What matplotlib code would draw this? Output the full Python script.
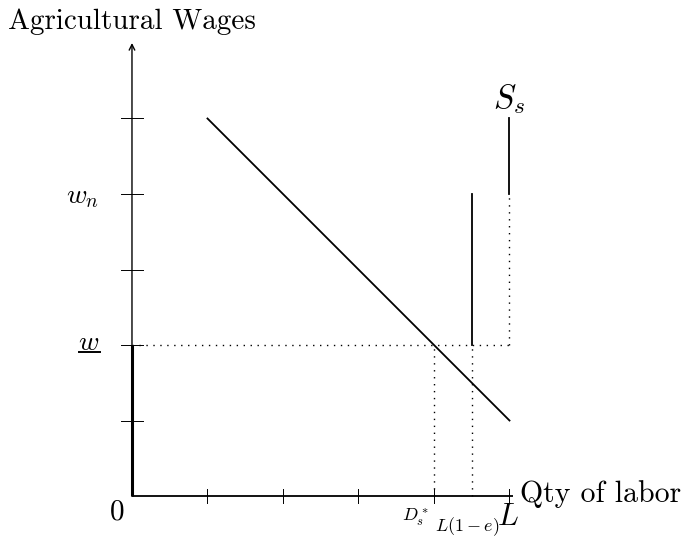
import matplotlib.pyplot as plt

plt.rcParams['font.family'] = 'serif'
plt.rcParams['font.serif'] = ['cmr10']
plt.rcParams['mathtext.fontset'] = 'cm'
plt.rcParams['axes.unicode_minus'] = False
plt.rcParams['axes.formatter.use_mathtext'] = True

# labour demand (downward sloping line)
demand_x = [1, 5]
demand_y = [5, 1]

# key levels
w_min = 2          # minimum wage w
w_n = 4            # w_n
D_star = 4         # D_s^*
L_1e = 4.5         # L(1-e)
L_tot = 5          # L
s_top = 5

x_ticks = [1, 2, 3, 4, 5]
y_ticks = [1, 2, 3, 4, 5]
y_max = 6

fig = plt.figure(figsize=(6.83, 5.39), dpi=100)
ax = fig.add_axes([0, 0, 1, 1])
ax.set_xlim(-1.748, 7.298)
ax.set_ylim(-0.5695, 6.5695)
ax.axis('off')

lw = 1.3
# axes
ax.plot([0, 5.05], [0, 0], color='black', lw=lw, solid_capstyle='butt')
ax.annotate('', xy=(0, y_max), xytext=(0, 0),
            arrowprops=dict(arrowstyle='->', lw=1.0, color='black',
                            shrinkA=0, shrinkB=0, mutation_scale=10))
for t in x_ticks:
    ax.plot([t, t], [-0.09, 0.09], color='black', lw=0.7)
for t in y_ticks:
    ax.plot([-0.14, 0.14], [t, t], color='black', lw=0.7)

# supply curve pieces
ax.plot([0, 0], [0, w_min], color='black', lw=2.2, solid_capstyle='butt')
ax.plot([L_1e, L_1e], [w_min, w_n], color='black', lw=lw)
ax.plot([L_tot, L_tot], [w_n, s_top], color='black', lw=lw)

# demand
ax.plot(demand_x, demand_y, color='black', lw=lw)

# dotted guides
dot = (0, (1, 4))
ax.plot([0, L_tot], [w_min, w_min], color='black', lw=1, ls=dot)
ax.plot([L_tot, L_tot], [w_min, w_n], color='black', lw=1, ls=dot)
ax.plot([D_star, D_star], [0, w_min], color='black', lw=1, ls=dot)
ax.plot([L_1e, L_1e], [0, w_min], color='black', lw=1, ls=dot)

# labels
ax.text(0, 6.28, 'Agricultural Wages', ha='center', va='center', fontsize=21)
ax.text(5.14, 0.02, 'Qty of labor', ha='left', va='center', fontsize=21.5)
ax.text(-0.2, -0.21, r'$0$', ha='center', va='center', fontsize=21)
ax.text(-0.66, w_n - 0.04, r'$w_n$', ha='center', va='center', fontsize=20)
ax.text(-0.57, w_min + 0.03, r'$w$', ha='center', va='center', fontsize=20)
ax.plot([-0.70, -0.42], [w_min - 0.09, w_min - 0.09], color='black', lw=1.4)
ax.text(L_tot, 5.13, r'$S_s$', ha='center', va='baseline', fontsize=24)
ax.text(L_tot - 0.02, -0.28, r'$L$', ha='center', va='center', fontsize=22)
ax.text(3.75, -0.28, r'$D_s^*$', ha='center', va='center', fontsize=13)
ax.text(4.44, -0.55, r'$L(1-e)$', ha='center', va='bottom', fontsize=13)

fig.savefig('out.png', dpi=100)
